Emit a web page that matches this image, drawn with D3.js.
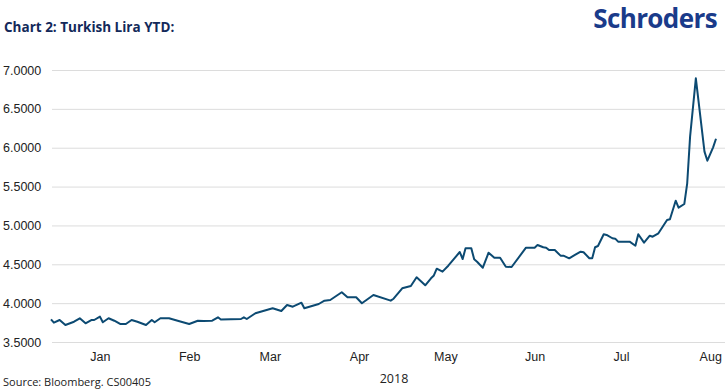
<!DOCTYPE html>
<html>
<head>
<meta charset="utf-8">
<script src="https://cdn.jsdelivr.net/npm/d3@7"></script>
<style>
  body { margin: 0; background: #fff; }
  svg { font-family: "Open Sans", sans-serif; }
</style>
</head>
<body>
<div id="chart"></div>
<script>
// data (USD/TRY, 2018 YTD)
const dates = [
  "2018-01-01","2018-01-02","2018-01-04","2018-01-06","2018-01-09","2018-01-11","2018-01-13","2018-01-15","2018-01-16","2018-01-18",
  "2018-01-19","2018-01-21","2018-01-23","2018-01-25","2018-01-27","2018-01-29","2018-01-31","2018-02-03","2018-02-05","2018-02-06",
  "2018-02-08","2018-02-11","2018-02-14","2018-02-18","2018-02-21","2018-02-23","2018-02-26","2018-02-28","2018-03-01","2018-03-08",
  "2018-03-09","2018-03-10","2018-03-13","2018-03-16","2018-03-19","2018-03-22","2018-03-24","2018-03-26","2018-03-29","2018-03-30",
  "2018-04-04","2018-04-06","2018-04-08","2018-04-12","2018-04-14","2018-04-17","2018-04-19","2018-04-23","2018-04-29","2018-04-30",
  "2018-05-03","2018-05-06","2018-05-08","2018-05-11","2018-05-13","2018-05-14","2018-05-15","2018-05-17","2018-05-19","2018-05-23",
  "2018-05-24","2018-05-25","2018-05-27","2018-05-28","2018-05-29","2018-05-31","2018-06-02","2018-06-04","2018-06-06","2018-06-08",
  "2018-06-10","2018-06-15","2018-06-18","2018-06-19","2018-06-21","2018-06-22","2018-06-23","2018-06-25","2018-06-27","2018-06-28",
  "2018-06-30","2018-07-02","2018-07-04","2018-07-05","2018-07-07","2018-07-08","2018-07-09","2018-07-10","2018-07-12","2018-07-13",
  "2018-07-15","2018-07-16","2018-07-17","2018-07-21","2018-07-23","2018-07-24","2018-07-26","2018-07-28","2018-07-29","2018-07-31",
  "2018-08-03","2018-08-04","2018-08-06","2018-08-07","2018-08-09","2018-08-10","2018-08-11","2018-08-13","2018-08-16","2018-08-17",
  "2018-08-19","2018-08-20"
];
const rates = [
  3.792,3.749,3.783,3.719,3.761,3.805,3.741,3.783,3.783,3.826,
  3.754,3.805,3.774,3.732,3.732,3.783,3.761,3.719,3.783,3.754,
  3.805,3.805,3.774,3.732,3.774,3.770,3.774,3.818,3.790,3.796,
  3.818,3.796,3.870,3.903,3.934,3.899,3.976,3.954,4.006,3.934,
  3.989,4.032,4.041,4.140,4.075,4.075,3.998,4.105,4.032,4.057,
  4.191,4.221,4.333,4.230,4.320,4.356,4.443,4.405,4.482,4.658,
  4.568,4.706,4.706,4.564,4.533,4.456,4.649,4.585,4.585,4.469,
  4.465,4.714,4.714,4.748,4.719,4.714,4.684,4.684,4.611,4.611,
  4.577,4.620,4.662,4.655,4.577,4.577,4.719,4.735,4.886,4.877,
  4.835,4.830,4.791,4.791,4.739,4.886,4.778,4.868,4.855,4.899,
  5.070,5.079,5.318,5.228,5.276,5.542,6.142,6.893,5.949,5.833,
  6.005,6.116
];
const yTicks = [3.5, 4.0, 4.5, 5.0, 5.5, 6.0, 6.5, 7.0];
const months = ["Jan","Feb","Mar","Apr","May","Jun","Jul","Aug"];

const W = 727, H = 391;
const parse = d3.utcParse("%Y-%m-%d");
const data = dates.map((d, i) => ({ date: parse(d), value: rates[i] }));

const svg = d3.select("#chart").append("svg")
  .attr("width", W)
  .attr("height", H);

const x = d3.scaleUtc()
  .domain([parse("2018-01-01"), parse("2018-08-20")])
  .range([51, 716]);

const y = d3.scaleLinear()
  .domain([3.5, 7.0])
  .range([342, 70]);

// gridlines + y labels
const yAxis = svg.append("g")
  .attr("transform", "translate(52,0)")
  .call(d3.axisLeft(y).tickValues(yTicks).tickSize(-673).tickPadding(10)
    .tickFormat(d3.format(".4f")));
yAxis.select(".domain").remove();
yAxis.selectAll(".tick line").attr("stroke", "#dcdcdc").attr("stroke-width", 1);
yAxis.selectAll(".tick text")
  .attr("x", -49).attr("text-anchor", "start")
  .style("font-size", "12.5px").attr("fill", "#222");

// month labels, sitting mid-month
const monthTicks = d3.utcMonth.range(parse("2018-01-01"), parse("2018-09-01"))
  .map(m => d3.utcDay.offset(m, 17));
const xAxis = svg.append("g")
  .attr("transform", "translate(0,342)")
  .call(d3.axisBottom(x).tickValues(monthTicks).tickSize(0).tickPadding(10)
    .tickFormat((d, i) => months[i]));
xAxis.select(".domain").remove();
xAxis.selectAll(".tick text").style("font-size", "12.5px").attr("fill", "#222");

// the series
const line = d3.line()
  .x(d => x(d.date))
  .y(d => y(d.value));

svg.append("path")
  .datum(data)
  .attr("d", line)
  .attr("fill", "none")
  .attr("stroke", "#0c4a72")
  .attr("stroke-width", 2)
  .attr("stroke-linejoin", "round");

// texts
svg.append("text")
  .attr("x", 4).attr("y", 32)
  .style("font-size", "13.5px").style("font-weight", "bold")
  .attr("fill", "#13295a")
  .text("Chart 2: Turkish Lira YTD:");

svg.append("text")
  .attr("x", 717).attr("y", 28)
  .attr("text-anchor", "end")
  .style("font-size", "26px").style("font-weight", "bold")
  .style("letter-spacing", "-0.6px")
  .attr("fill", "#1a3b8a")
  .text("Schroders");

svg.append("text")
  .attr("x", 394).attr("y", 383)
  .attr("text-anchor", "middle")
  .style("font-size", "12.5px").attr("fill", "#222")
  .text("2018");

svg.append("text")
  .attr("x", 3).attr("y", 386)
  .style("font-size", "11px").attr("fill", "#222")
  .text("Source: Bloomberg. CS00405");
</script>
</body>
</html>
